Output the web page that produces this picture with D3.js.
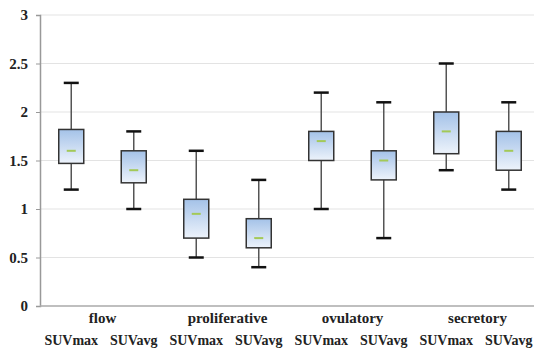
<!DOCTYPE html>
<html>
<head>
<meta charset="utf-8">
<script src="https://cdn.jsdelivr.net/npm/d3@7"></script>
<style>
  body { margin: 0; background: #fff; }
  svg text { font-family: "Liberation Serif", "Times New Roman", serif !important; font-weight: bold; fill: #222; }
</style>
</head>
<body>
<div id="chart"></div>
<script>
let phases = ['flow', 'proliferative', 'ovulatory', 'secretory']
let measures = ['SUVmax', 'SUVavg']
let mins = [1.2, 1.0, 0.5, 0.4, 1.0, 0.7, 1.4, 1.2]
let q1s = [1.47, 1.27, 0.7, 0.6, 1.5, 1.3, 1.57, 1.4]
let medians = [1.6, 1.4, 0.95, 0.7, 1.7, 1.5, 1.8, 1.6]
let q3s = [1.82, 1.6, 1.1, 0.9, 1.8, 1.6, 2.0, 1.8]
let maxs = [2.3, 1.8, 1.6, 1.3, 2.2, 2.1, 2.5, 2.1]
let yTicks = [0, 0.5, 1, 1.5, 2, 2.5, 3]

let width = 534
let height = 349
let plotLeft = 40
let plotTop = 15
let plotBottom = 306

let svg = d3.select('#chart')
  .append('svg')
  .attr('width', width)
  .attr('height', height)

let defs = svg.append('defs')
let grad = defs.append('linearGradient')
  .attr('id', 'boxFill')
  .attr('x1', 0).attr('y1', 0).attr('x2', 0).attr('y2', 1)
grad.append('stop').attr('offset', '0%').attr('stop-color', '#a4c2e8')
grad.append('stop').attr('offset', '100%').attr('stop-color', '#edf3fb')

// one slot per box
let slots = []
phases.forEach(function (p) {
  measures.forEach(function (m) {
    slots.push(p + '|' + m)
  })
})
let boxes = slots.map(function (s, i) {
  return { key: s, min: mins[i], q1: q1s[i], med: medians[i], q3: q3s[i], max: maxs[i] }
})

let x = d3.scaleBand().domain(slots).range([plotLeft, 540])
let xPhase = d3.scaleBand().domain(phases).range([plotLeft, 540])
let y = d3.scaleLinear().domain([0, 3]).range([plotBottom, plotTop])

// grid
svg.append('g')
  .selectAll('line')
  .data(yTicks.slice(1))
  .enter()
  .append('line')
  .attr('x1', plotLeft).attr('x2', width)
  .attr('y1', d => y(d)).attr('y2', d => y(d))
  .attr('stroke', '#e3e3e3')
  .attr('stroke-width', 1.2)

// y axis
let yAxis = svg.append('g')
  .attr('transform', 'translate(' + plotLeft + ',0)')
  .call(d3.axisLeft(y).tickValues(yTicks).tickSize(4).tickPadding(8).tickFormat(d3.format('')))
yAxis.attr('font-family', null)
yAxis.select('.domain').attr('stroke', '#999').attr('stroke-width', 1.5)
yAxis.selectAll('.tick line').attr('stroke', '#999')
yAxis.selectAll('text').style('font-size', '15px').attr('fill', '#222')

// x baseline
svg.append('line')
  .attr('x1', plotLeft).attr('x2', width)
  .attr('y1', plotBottom).attr('y2', plotBottom)
  .attr('stroke', '#aaa')
  .attr('stroke-width', 1.5)

let g = svg.append('g')
let bw = 25
let cap = 15
let box = g.selectAll('g.box')
  .data(boxes)
  .enter()
  .append('g')
  .attr('class', 'box')
  .attr('transform', d => 'translate(' + (x(d.key) + x.bandwidth() / 2) + ',0)')

box.append('line')
  .attr('x1', 0).attr('x2', 0)
  .attr('y1', d => y(d.max)).attr('y2', d => y(d.min))
  .attr('stroke', '#555')
  .attr('stroke-width', 1.5)

box.selectAll('line.cap')
  .data(d => [d.max, d.min])
  .enter()
  .append('line')
  .attr('class', 'cap')
  .attr('x1', -cap / 2).attr('x2', cap / 2)
  .attr('y1', d => y(d)).attr('y2', d => y(d))
  .attr('stroke', '#111')
  .attr('stroke-width', 2.5)

box.append('rect')
  .attr('x', -bw / 2)
  .attr('width', bw)
  .attr('y', d => y(d.q3))
  .attr('height', d => y(d.q1) - y(d.q3))
  .attr('fill', 'url(#boxFill)')
  .attr('stroke', '#333')
  .attr('stroke-width', 1.5)

box.append('line')
  .attr('x1', -4.5).attr('x2', 4.5)
  .attr('y1', d => y(d.med)).attr('y2', d => y(d.med))
  .attr('stroke', '#a3c957')
  .attr('stroke-width', 2)

// phase labels
svg.append('g')
  .selectAll('text')
  .data(phases)
  .enter()
  .append('text')
  .attr('x', d => xPhase(d) + xPhase.bandwidth() / 2)
  .attr('y', 323)
  .attr('text-anchor', 'middle')
  .style('font-size', '15px')
  .text(d => d)

// measure labels
svg.append('g')
  .selectAll('text')
  .data(slots)
  .enter()
  .append('text')
  .attr('x', d => x(d) + x.bandwidth() / 2)
  .attr('y', 345)
  .attr('text-anchor', 'middle')
  .style('font-size', '14px')
  .text(d => d.split('|')[1])
</script>
</body>
</html>
